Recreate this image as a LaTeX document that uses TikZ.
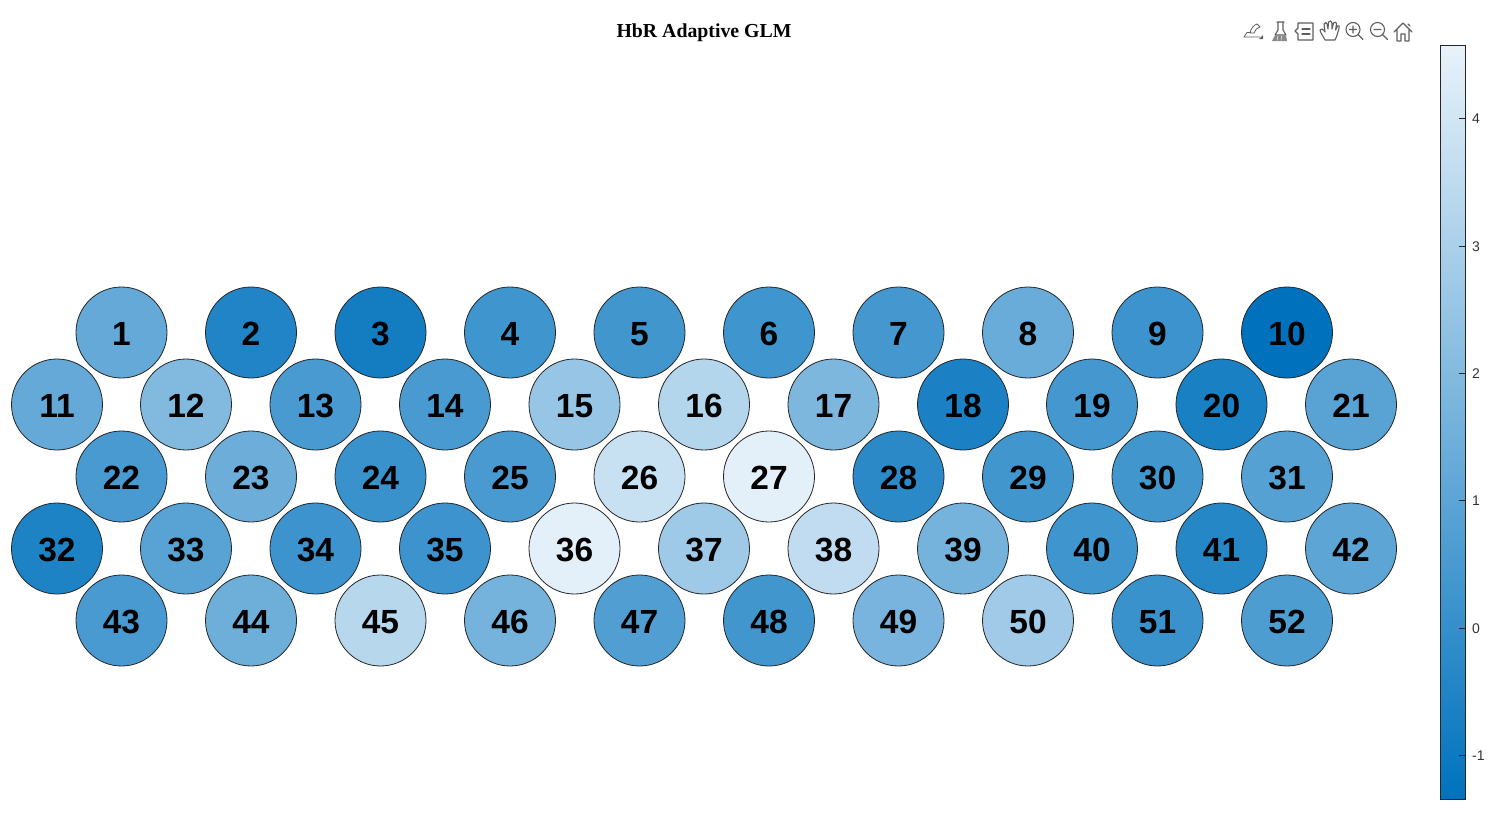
\documentclass[tikz,border=0pt]{standalone}
\usepackage{fontspec}
\setmainfont{Liberation Sans}
\newfontfamily\titlefont{Liberation Serif}
\definecolor{hblow}{RGB}{0,114,189}
\definecolor{hbhigh}{RGB}{232,242,250}
\definecolor{iconc}{RGB}{95,95,95}
\tikzset{
  chan/.style={circle,draw=black!85,line width=0.8pt,minimum size=91pt,inner sep=0pt,
    text height=26.6pt,text depth=0pt,
    font=\fontsize{33.5}{33.5}\selectfont\bfseries,text=black},
  tick/.style={line width=0.8pt,draw=black!85},
  ticklab/.style={anchor=west,inner sep=0pt,text height=10pt,text depth=0pt,font=\fontsize{14}{14}\selectfont,text=black!80},
  ico/.style={draw=iconc,line width=1.1pt,line join=round,line cap=round,fill=none},
}
\begin{document}
\begin{tikzpicture}[x=1pt,y=-1pt]
\useasboundingbox (0,0) rectangle (1494,822);
\fill[white] (0,0) rectangle (1494,822);
\node[inner sep=0pt,text height=13pt,text depth=4pt,font=\fontsize{19.8}{20}\selectfont\titlefont\bfseries] (title) at (704,33) {HbR Adaptive GLM};
% channels: number/x/y/percent of light colour
\foreach \n/\x/\y/\t [evaluate=\t as \tv using {min(98,\t*1.08)}] in {
 1/121.5/332.5/40,2/251/332.5/13,3/380.5/332.5/8,4/510/332.5/25,5/639.5/332.5/26,6/769/332.5/25,7/898.5/332.5/27,8/1028/332.5/42,9/1157.5/332.5/24,10/1287/332.5/0,
 11/57/404.5/40,12/186/404.5/52,13/315.5/404.5/29,14/445/404.5/29,15/574.5/404.5/60,16/704/404.5/72,17/833.5/404.5/50,18/963/404.5/11,19/1092/404.5/27,20/1221.5/404.5/10,21/1351/404.5/35,
 22/121.5/476.5/29,23/251/476.5/43,24/380.5/476.5/23,25/510/476.5/29,26/639.5/476.5/80,27/769/476.5/97,28/898.5/476.5/17,29/1028/476.5/26,30/1157.5/476.5/26,31/1287/476.5/34,
 32/57/548.5/12,33/186/548.5/35,34/315.5/548.5/24,35/445/548.5/24,36/574.5/548.5/93,37/704/548.5/63,38/833.5/548.5/77,39/963/548.5/47,40/1092/548.5/25,41/1221.5/548.5/15,42/1351/548.5/37,
 43/121.5/620.5/29,44/251/620.5/44,45/380.5/620.5/73,46/510/620.5/47,47/639.5/620.5/32,48/769/620.5/26,49/898.5/620.5/48,50/1028/620.5/64,51/1157.5/620.5/23,52/1287/620.5/31}
  \node[chan,fill=hbhigh!\tv!hblow] (c\n) at (\x,\y) {\n};
% colour bar
\shade[bottom color=hblow,top color=hbhigh] (1440,799) rectangle (1465.5,45);
\draw[line width=0.9pt,draw=black!85] (1440,45) rectangle (1465.5,799);
\foreach \v/\y in {4/118.5,3/246.5,2/373.5,1/500.5,0/628.5,-1/755.5}{
  \draw[tick] (1459,\y) -- (1465.5,\y);
  \node[ticklab] (tl\v) at (1472,\y) {\v};
}
% toolbar: pen over tray
\begin{scope}[shift={(1244,22)}]
 \draw[ico,line width=0.8pt] (0,15) -- (3,10.5) -- (7,10.5) (0,15) -- (16,15);
 \draw[ico,line width=0.8pt] (6,11) .. controls (7,6) and (10,3) .. (13,2) -- (16,5) .. controls (13,5.5) and (11,8) .. (10,11) -- cycle;
 \fill[iconc] (15,17) -- (19,17) -- (19,13) -- cycle;
\end{scope}
% toolbar: flask brush
\begin{scope}[shift={(1271,21)}]
 \draw[ico] (6,1) -- (13,1) (7,1) -- (7,9) -- (4,14) -- (15,14) -- (12,9) -- (12,1);
 \fill[iconc!75] (1,20) -- (4,14.5) -- (15,14.5) -- (16,20) -- cycle;
 \draw[white,line width=0.5pt] (6,19.5) -- (7,15) (10,19.5) -- (10.5,15);
\end{scope}
% toolbar: legend
\begin{scope}[shift={(1295,22)}]
 \draw[ico] (3,1) -- (18,1) -- (18,18) -- (3,18) -- (3,12) -- (0,9) -- (3,6) -- cycle;
 \draw[ico] (7,7) -- (15,7) (7,12) -- (15,12);
\end{scope}
% toolbar: hand
\begin{scope}[shift={(1320,21)}]
 \draw[ico] (5,19) .. controls (3,15) and (0,11) .. (0,9) .. controls (1,7) and (3,8) .. (5,11)
   -- (4,3) .. controls (5,1) and (7,1) .. (7,3) -- (8,8) -- (8.5,1) .. controls (10,-1) and (12,0) .. (12,2) -- (12,8)
   -- (13.5,2) .. controls (15,0.5) and (17,1) .. (16.5,3) -- (15.5,9) -- (17.5,5) .. controls (19,4) and (20,5) .. (19,7)
   .. controls (18,11) and (17,15) .. (15,19) -- cycle;
\end{scope}
% toolbar: zoom in
\begin{scope}[shift={(1353,29.5)}]
 \draw[ico] (0,0) circle (7pt);
 \draw[ico] (-3.5,0) -- (3.5,0) (0,-3.5) -- (0,3.5) (5,5) -- (10,10);
\end{scope}
% toolbar: zoom out
\begin{scope}[shift={(1377.5,29.5)}]
 \draw[ico] (0,0) circle (7pt);
 \draw[ico] (-3.5,0) -- (3.5,0) (5,5) -- (10,10);
\end{scope}
% toolbar: home
\begin{scope}[shift={(1394,22)}]
 \draw[ico] (0,10) -- (9,1) -- (18,10) (3,8) -- (3,19) -- (7,19) -- (7,12) -- (11,12) -- (11,19) -- (15,19) -- (15,8);
 \draw[ico] (14,2) -- (16,4);
\end{scope}
\end{tikzpicture}
\end{document}
